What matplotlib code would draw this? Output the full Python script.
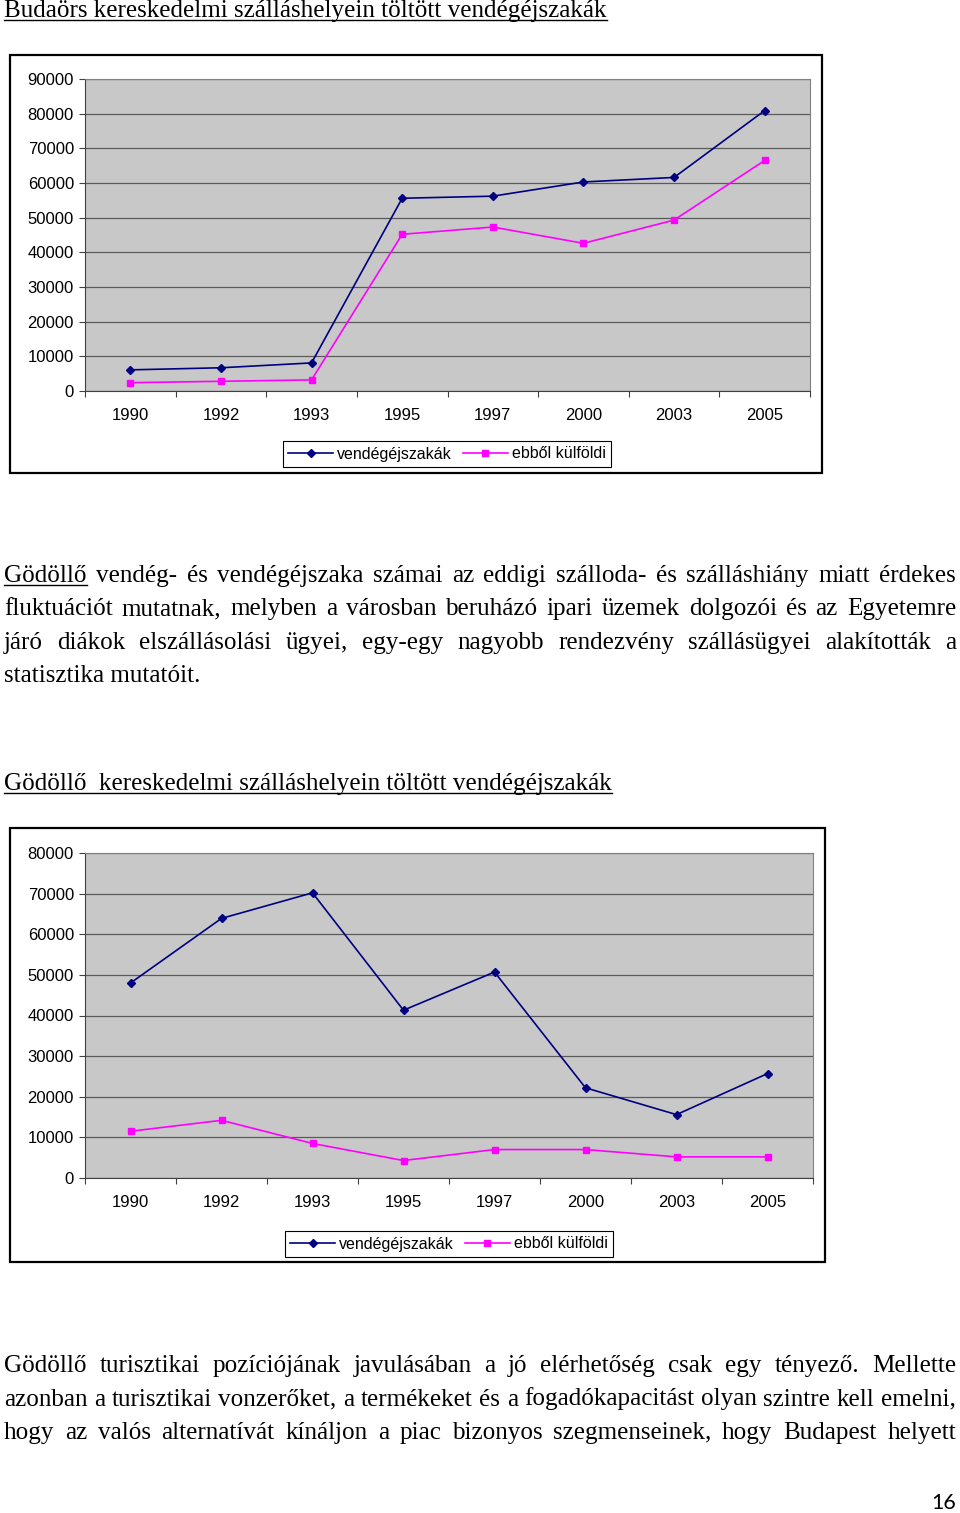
import matplotlib
matplotlib.use('Agg')
import matplotlib.pyplot as plt
from matplotlib.patches import Rectangle
from matplotlib.lines import Line2D
from matplotlib.transforms import IdentityTransform

W, H = 960, 1513

years = ['1990', '1992', '1993', '1995', '1997', '2000', '2003', '2005']
budaors_total = [6100, 6700, 8100, 55600, 56200, 60300, 61600, 80900]
budaors_foreign = [2400, 2800, 3200, 45200, 47300, 42600, 49300, 66500]
godollo_total = [48000, 63900, 70200, 41300, 50700, 22200, 15600, 25700]
godollo_foreign = [11500, 14200, 8500, 4300, 7000, 7000, 5200, 5200]
series_names = ['vendégéjszakák', 'ebből külföldi']

title1 = 'Budaörs kereskedelmi szálláshelyein töltött vendégéjszakák'
title2 = 'Gödöllő  kereskedelmi szálláshelyein töltött vendégéjszakák'
para1 = ['Gödöllő vendég- és vendégéjszaka számai az eddigi szálloda- és szálláshiány miatt érdekes',
         'fluktuációt mutatnak, melyben a városban beruházó ipari üzemek dolgozói és az Egyetemre',
         'járó diákok elszállásolási ügyei, egy-egy nagyobb rendezvény szállásügyei alakították a',
         'statisztika mutatóit.']
para2 = ['Gödöllő turisztikai pozíciójának javulásában a jó elérhetőség csak egy tényező. Mellette',
         'azonban a turisztikai vonzerőket, a termékeket és a fogadókapacitást olyan szintre kell emelni,',
         'hogy az valós alternatívát kínáljon a piac bizonyos szegmenseinek, hogy Budapest helyett']
page_no = '16'

fig = plt.figure(figsize=(W / 100, H / 100), dpi=100)
ident = IdentityTransform()
renderer = fig.canvas.get_renderer()
SERIF = 'Liberation Serif'
SANS = 'Liberation Sans'
LEFT, RIGHT = 4, 956
TXT = 18.1


def fx(x):
    return x / W


def fy(y):
    return 1 - y / H


def underline(x0, x1, y):
    fig.add_artist(Line2D([x0, x1], [H - y, H - y], transform=ident, color='black', lw=1.0))


def put_line(text, y, justify=True, underline_first=False):
    # y is the baseline in image pixels (top = 0)
    if not justify:
        return fig.text(LEFT, H - y, text, transform=ident, fontsize=TXT, family=SERIF, va='baseline')
    words = text.split(' ')
    arts = [fig.text(0, 0, w, transform=ident, fontsize=TXT, family=SERIF, va='baseline') for w in words]
    widths = [a.get_window_extent(renderer).width for a in arts]
    gap = (RIGHT - LEFT - sum(widths)) / (len(words) - 1)
    x = LEFT
    for a, w in zip(arts, widths):
        a.set_position((x, H - y))
        x += w + gap
    if underline_first:
        underline(LEFT, LEFT + widths[0], y + 3)


def title(text, y):
    t = fig.text(LEFT, H - y, text, transform=ident, fontsize=TXT, family=SERIF, va='baseline')
    bb = t.get_window_extent(renderer)
    underline(bb.x0, bb.x1, y + 3)


def frame(x0, y0, x1, y1):
    fig.add_artist(Rectangle((fx(x0), fy(y1)), fx(x1) - fx(x0), fy(y0) - fy(y1),
                             transform=fig.transFigure, fill=False, edgecolor='black', lw=1.6))


def chart(box, total, foreign, ymax, legend_xy):
    x0, y0, x1, y1 = box
    ax = fig.add_axes([fx(x0), fy(y1), fx(x1) - fx(x0), fy(y0) - fy(y1)])
    ax.set_facecolor('#c8c8c8')
    xs = list(range(len(years)))
    ax.plot(xs, total, color='#000080', lw=1.2, marker='D', ms=4.5, label=series_names[0])
    ax.plot(xs, foreign, color='#ff00ff', lw=1.2, marker='s', ms=5, label=series_names[1])
    ax.set_xlim(-0.5, len(years) - 0.5)
    ax.set_ylim(0, ymax)
    ax.set_yticks(range(0, ymax + 1, 10000))
    ax.set_yticklabels([str(v) for v in range(0, ymax + 1, 10000)], fontsize=12, family=SANS)
    ax.yaxis.grid(True, color='#5a5a5a', lw=0.9)
    ax.set_axisbelow(True)
    ax.set_xticks([i - 0.5 for i in range(len(years) + 1)])
    ax.set_xticklabels([])
    ax.set_xticks(xs, minor=True)
    ax.set_xticklabels(years, minor=True, fontsize=12, family=SANS)
    ax.tick_params(axis='x', which='major', length=4, direction='out', color='#404040')
    ax.tick_params(axis='x', which='minor', length=0, pad=12)
    ax.tick_params(axis='y', length=4, direction='out', pad=4, color='#404040')
    for s in ['top', 'right']:
        ax.spines[s].set_color('#808080')
    for s in ['left', 'bottom']:
        ax.spines[s].set_color('#404040')
    leg = ax.legend(loc='center', bbox_to_anchor=(fx(legend_xy[0]), fy(legend_xy[1])),
                    bbox_transform=fig.transFigure, ncol=2, frameon=True, fancybox=False,
                    edgecolor='black', framealpha=1, borderpad=0.35, handlelength=2.8,
                    handletextpad=0.25, columnspacing=0.7, prop={'family': SANS, 'size': 11.5})
    leg.get_frame().set_linewidth(0.8)
    return ax


# chart 1 - Budaörs
title(title1, 17)
frame(10, 55, 822, 473)
chart((85, 79, 810, 391), budaors_total, budaors_foreign, 90000, (447, 454))

# paragraph 1
for i, line in enumerate(para1):
    put_line(line, 582 + i * 33.3, justify=(i < len(para1) - 1), underline_first=(i == 0))

# chart 2 - Gödöllő
title(title2, 790)
frame(10, 828, 825, 1262)
chart((85, 853, 813, 1178), godollo_total, godollo_foreign, 80000, (449, 1244))

# paragraph 2
for i, line in enumerate(para2):
    put_line(line, 1372 + i * 33.5, justify=True)

fig.text(956, H - 1509, page_no, transform=ident, fontsize=15.5, family='Lato', ha='right', va='baseline')

fig.savefig('out.png', dpi=100)
